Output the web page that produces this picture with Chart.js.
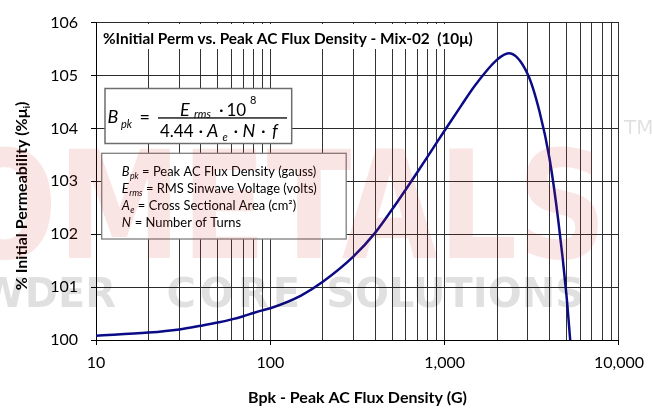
<!DOCTYPE html>
<html lang="en">
<head>
<meta charset="UTF-8">
<title>%Initial Perm vs. Peak AC Flux Density - Mix-02</title>
<script src="https://cdn.jsdelivr.net/npm/chart.js"></script>
<style>
  html, body { margin: 0; padding: 0; background: #fff; }
  #wrap { width: 652px; height: 409px; }
</style>
</head>
<body>
<div id="wrap"><canvas id="permChart" width="652" height="409"></canvas></div>
<script>
// values
const fluxDensity = [10, 20, 30, 40, 50, 60, 70, 80, 90, 100, 150, 200, 300, 400, 500, 600, 700, 800, 900,
  1000, 1250, 1500, 2000, 2330, 3000, 3500, 4000, 4500, 5000, 5250];
const initialPerm = [100.08, 100.14, 100.20, 100.27, 100.33, 100.39, 100.45, 100.51, 100.56, 100.60, 100.84,
  101.10, 101.58, 102.03, 102.47, 102.85, 103.18, 103.47, 103.73, 103.96, 104.44, 104.82, 105.30, 105.42,
  105.02, 104.32, 103.42, 102.22, 100.84, 100.00];
const xTicks = [10, 20, 30, 40, 50, 60, 70, 80, 90, 100, 200, 300, 400, 500, 600, 700, 800, 900,
  1000, 2000, 3000, 4000, 5000, 6000, 7000, 8000, 9000, 10000];
const xTickLabels = { 10: "10", 100: "100", 1000: "1,000", 10000: "10,000" };
const yTicks = [100, 101, 102, 103, 104, 105, 106];

const chartTitle = "%Initial Perm vs. Peak AC Flux Density - Mix-02  (10\u03bc)";
const defLines = [
  { sym: "B", sub: "pk", text: "= Peak AC Flux Density (gauss)" },
  { sym: "E", sub: "rms", text: "= RMS Sinwave Voltage (volts)" },
  { sym: "A", sub: "e", text: "= Cross Sectional Area (cm\u00b2)" },
  { sym: "N", sub: "", text: "= Number of Turns" }
];

const FONT = "Lato, 'Open Sans', sans-serif";

function fitSize(ctx, text, weight, width) {
  ctx.font = weight + " 20px " + FONT;
  return 20 * width / ctx.measureText(text).width;
}

function drawFormula(ctx) {
  ctx.save();
  ctx.fillStyle = "#fff";
  ctx.fillRect(105, 88.5, 186.7, 55);
  ctx.strokeStyle = "#6d6d6d";
  ctx.lineWidth = 1.5;
  ctx.strokeRect(105, 88.5, 186.7, 55);

  ctx.fillStyle = "#000";
  ctx.textBaseline = "alphabetic";
  ctx.textAlign = "left";
  const it = s => "italic " + s + "px " + FONT;
  const rm = s => s + "px " + FONT;
  const put = (t, f, x, y) => { ctx.font = f; ctx.fillText(t, x, y); };

  put("B", it(18), 107.5, 123);
  put("pk", it(11), 121, 127.5);
  put("=", rm(18), 139.5, 123);
  ctx.fillRect(158, 117.3, 129, 1.3);

  put("E", it(18), 180, 115.5);
  put("rms", it(11), 194, 117.5);
  put("\u00b7", rm(18), 219, 115.5);
  put("10", rm(17), 226.5, 115.5);
  put("8", rm(11), 250, 103.5);

  put("4.44", rm(17), 160, 136.5);
  put("\u00b7", rm(18), 198.5, 136.5);
  put("A", it(18), 207, 136.5);
  put("e", it(11), 222.5, 140.5);
  put("\u00b7", rm(18), 233.5, 136.5);
  put("N", it(18), 242.5, 136.5);
  put("\u00b7", rm(18), 261, 136.5);
  put("f", it(18), 272, 136.5);
  ctx.restore();
}

function drawDefinitions(ctx) {
  ctx.save();
  ctx.fillStyle = "#fff";
  ctx.fillRect(101.7, 153.3, 244.5, 85.7);
  ctx.strokeStyle = "#7f7f7f";
  ctx.lineWidth = 1.3;
  ctx.strokeRect(101.7, 153.3, 244.5, 85.7);

  const size = fitSize(ctx, defLines[0].text, "normal", 174.4);
  ctx.fillStyle = "#000";
  ctx.textAlign = "left";
  defLines.forEach((d, i) => {
    const y = 176 + i * 17.1;
    let x = 121.7;
    ctx.font = "italic " + size + "px " + FONT;
    ctx.fillText(d.sym, x, y);
    x += ctx.measureText(d.sym).width + 0.5;
    if (d.sub) {
      ctx.font = "italic " + (size * 0.68) + "px " + FONT;
      ctx.fillText(d.sub, x, y + 3);
      x += ctx.measureText(d.sub).width;
    }
    ctx.font = size + "px " + FONT;
    x += ctx.measureText(" ").width;
    ctx.fillText(d.text, x, y);
  });
  ctx.restore();
}

function drawTitle(ctx) {
  ctx.save();
  const size = fitSize(ctx, chartTitle, "bold", 370);
  ctx.fillStyle = "#fff";
  ctx.fillRect(97, 24, 381, 25);
  ctx.fillStyle = "#000";
  ctx.font = "bold " + size + "px " + FONT;
  ctx.textAlign = "left";
  ctx.fillText(chartTitle, 103, 43.5);
  ctx.restore();
}

function drawYTitle(ctx) {
  ctx.save();
  ctx.translate(27, 196);
  ctx.rotate(-Math.PI / 2);
  const main = "% Initial Permeability (%\u03bc";
  const big = "bold 16px " + FONT, small = "bold 10px " + FONT;
  ctx.font = big;
  const w1 = ctx.measureText(main).width, w3 = ctx.measureText(")").width;
  ctx.font = small;
  const w2 = ctx.measureText("i").width;
  let x = -(w1 + w2 + w3) / 2;
  ctx.fillStyle = "#000";
  ctx.textAlign = "left";
  ctx.font = big; ctx.fillText(main, x, 0); x += w1;
  ctx.font = small; ctx.fillText("i", x, 3); x += w2;
  ctx.font = big; ctx.fillText(")", x, 0);
  ctx.restore();
}

function drawWatermark(ctx) {
  ctx.save();
  ctx.font = "bold 150px 'DejaVu Sans'";
  ctx.fillStyle = "rgba(215, 40, 40, 0.12)";
  ctx.textAlign = "right";
  ctx.translate(607, 258);
  ctx.scale(0.83, 1);
  ctx.fillText("MICROMETALS", 0, 0);
  ctx.restore();

  ctx.save();
  ctx.fillStyle = "rgba(0, 0, 0, 0.12)";
  ctx.textAlign = "right";
  ctx.font = "bold 40px 'DejaVu Sans'";
  ctx.fillText("POWDER", 116, 307);
  ctx.fillText("SOLUTIONS", 584, 307);
  ctx.letterSpacing = "4px";
  ctx.fillText("CORE", 304, 307);
  ctx.letterSpacing = "0px";
  ctx.font = "20px 'DejaVu Sans'";
  ctx.textAlign = "left";
  ctx.fillText("TM", 624, 134);
  ctx.restore();
}

const overlay = {
  id: "overlay",
  afterDraw(chart) {
    const ctx = chart.ctx;
    drawTitle(ctx);
    drawFormula(ctx);
    drawDefinitions(ctx);
    drawYTitle(ctx);
    drawWatermark(ctx);
  }
};

new Chart(document.getElementById("permChart"), {
  type: "line",
  data: {
    datasets: [{
      data: fluxDensity.map((x, i) => ({ x: x, y: initialPerm[i] })),
      borderColor: "#0b0b86",
      borderWidth: 2.5,
      pointRadius: 0,
      fill: false,
      cubicInterpolationMode: "monotone"
    }]
  },
  options: {
    responsive: false,
    animation: false,
    devicePixelRatio: 1,
    layout: { padding: { top: 20, right: 26.3, bottom: 0, left: 0 } },
    plugins: { legend: { display: false }, tooltip: { enabled: false } },
    scales: {
      x: {
        type: "logarithmic",
        min: 10,
        max: 10000,
        afterBuildTicks: s => { s.ticks = xTicks.map(v => ({ value: v })); },
        afterFit: s => { s.height = 69; },
        ticks: {
          autoSkip: false,
          maxRotation: 0,
          padding: 8,
          color: "#000",
          font: { family: FONT, size: 16 },
          callback: v => xTickLabels[v] || ""
        },
        grid: {
          color: "#333",
          lineWidth: 1,
          tickLength: 5,
          tickColor: c => (c.tick && xTickLabels[c.tick.value]) ? "#000" : "rgba(0,0,0,0)"
        },
        border: { color: "#000", width: 1 },
        title: {
          display: true,
          text: "Bpk - Peak AC Flux Density (G)",
          color: "#000",
          font: { family: FONT, size: 16, weight: "bold" },
          padding: { top: 0, bottom: 2 }
        }
      },
      y: {
        min: 100,
        max: 106,
        afterBuildTicks: s => { s.ticks = yTicks.map(v => ({ value: v })); },
        afterFit: s => { s.width = 96; },
        ticks: {
          padding: 13,
          color: "#000",
          font: { family: FONT, size: 16 }
        },
        grid: { color: "#2a2a2a", lineWidth: 1, tickLength: 5, tickColor: "#000" },
        border: { color: "#000", width: 1 }
      }
    }
  },
  plugins: [overlay]
});
</script>
</body>
</html>
